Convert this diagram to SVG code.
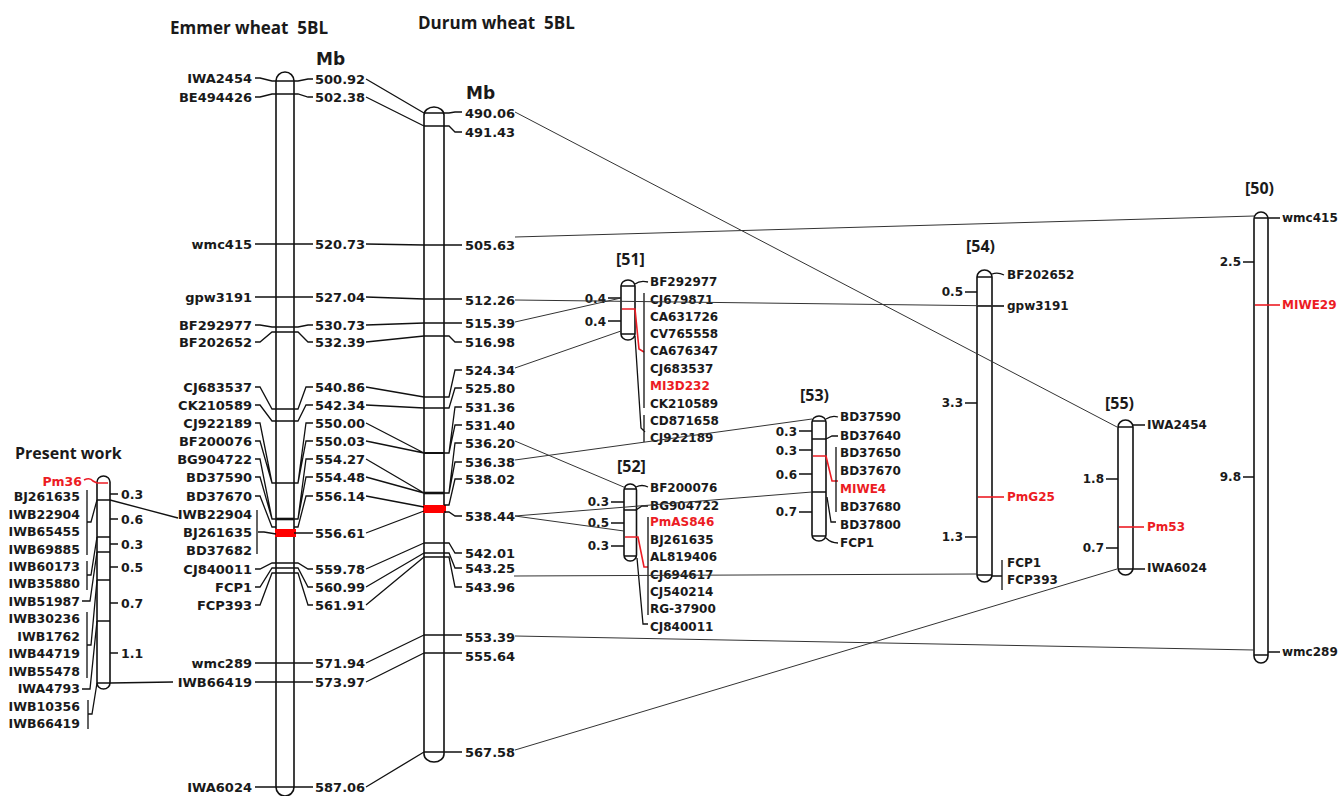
<svg xmlns="http://www.w3.org/2000/svg" width="1344" height="796" viewBox="0 0 1344 796">
<style>
text{font-family:"DejaVu Sans","Liberation Sans",sans-serif;font-weight:bold;font-size:13px;fill:#1a1a1a;dominant-baseline:central}
.e{text-anchor:end}
.s{font-size:12px}
.p{font-size:12.5px}
.r{fill:#ec1c24}
.t{font-family:"Open Sans","Liberation Sans",sans-serif;font-size:17px;font-weight:bold;white-space:pre}
.h{font-family:"Open Sans","Liberation Sans",sans-serif;font-size:16px;font-weight:bold}
.mb{font-size:17px}
.chr{fill:#fff;stroke:#111;stroke-width:1.6}
.ln{fill:none;stroke:#111;stroke-width:1.3}
.rl{fill:none;stroke:#ec1c24;stroke-width:1.6}
.cn{fill:none;stroke:#333;stroke-width:1}
.bk{fill:none;stroke:#111;stroke-width:1.3}
.band{fill:#f00}
</style>
<rect width="1344" height="796" fill="#fff"/>

<g id="titles">
<text class="t" x="170" y="27">Emmer wheat  5BL</text>
<text class="t" x="418" y="22">Durum wheat  5BL</text>
</g>

<g id="present-work">
<text class="t" x="15" y="453" style="font-size:16px">Present work</text>
<rect class="chr" x="97" y="476" width="13" height="213" rx="6.5" ry="6"/>
<path class="ln" d="M97 500H110M97 537H110M97 552H110M97 580H110M97 621H110M97 683H110"/>
<path class="rl" d="M97 483H108M84 480Q90 477 93 481L97 483"/>
<text class="r e p" x="82" y="481">Pm36</text>
<path class="ln" d="M110 494H118M110 519H118M110 544H118M110 567H118M110 603H118M110 653H118"/>
<text class="p" x="121" y="494">0.3</text>
<text class="p" x="121" y="519">0.6</text>
<text class="p" x="121" y="544">0.3</text>
<text class="p" x="121" y="567">0.5</text>
<text class="p" x="121" y="603">0.7</text>
<text class="p" x="121" y="653">1.1</text>
<text class="e p" x="80" y="496">BJ261635</text>
<text class="e p" x="80" y="514">IWB22904</text>
<text class="e p" x="80" y="531">IWB65455</text>
<text class="e p" x="80" y="549">IWB69885</text>
<text class="e p" x="80" y="566">IWB60173</text>
<text class="e p" x="80" y="583">IWB35880</text>
<text class="e p" x="80" y="601">IWB51987</text>
<text class="e p" x="80" y="618">IWB30236</text>
<text class="e p" x="80" y="636">IWB1762</text>
<text class="e p" x="80" y="653">IWB44719</text>
<text class="e p" x="80" y="671">IWB55478</text>
<text class="e p" x="80" y="688">IWA4793</text>
<text class="e p" x="80" y="706">IWB10356</text>
<text class="e p" x="80" y="723">IWB66419</text>
<path class="ln" d="M87 490V555M87 561V590M87 612V678M88 700V729M87 522H91L97 500M87 575H91L97 537M82 601H90L97 552M87 645H91L97 580M82 689H90L97 621M88 714H92L97 683"/>
</g>

<g id="emmer">
<text class="mb" x="316" y="59">Mb</text>
<rect class="chr" x="276" y="72" width="18" height="724" rx="9" ry="9"/>
<path class="ln" d="M276 81H294M276 94H294M276 244H294M276 297H294M276 327H294M276 332H294M276 409H294M276 421H294M276 483H294M276 563H294M276 568H294M276 573H294M276 663H294M276 682H294M276 787H294"/>
<path class="ln" style="stroke-width:2.6" d="M276 519H294"/>
<rect class="band" x="275" y="529" width="21" height="8"/>
<text class="e" x="252" y="78">IWA2454</text>
<text class="e" x="252" y="97">BE494426</text>
<text class="e" x="252" y="244">wmc415</text>
<text class="e" x="252" y="297">gpw3191</text>
<text class="e" x="252" y="325">BF292977</text>
<text class="e" x="252" y="342">BF202652</text>
<text class="e" x="252" y="387">CJ683537</text>
<text class="e" x="252" y="405">CK210589</text>
<text class="e" x="252" y="423">CJ922189</text>
<text class="e" x="252" y="441">BF200076</text>
<text class="e" x="252" y="459">BG904722</text>
<text class="e" x="252" y="477">BD37590</text>
<text class="e" x="252" y="496">BD37670</text>
<text class="e" x="252" y="514">IWB22904</text>
<text class="e" x="252" y="532">BJ261635</text>
<text class="e" x="252" y="550">BD37682</text>
<text class="e" x="252" y="569">CJ840011</text>
<text class="e" x="252" y="587">FCP1</text>
<text class="e" x="252" y="605">FCP393</text>
<text class="e" x="252" y="663">wmc289</text>
<text class="e" x="252" y="682">IWB66419</text>
<text class="e" x="252" y="787">IWA6024</text>
<path class="ln" d="M255 78H260L272 81H276M255 97H260L272 94H276M255 244H276M255 297H276M255 325H260L272 327H276M255 342H260L272 332H276M255 387H260L272 409H276M255 405H260L272 421H276M255 423H260L272 483H276M255 441H260L272 483H276M255 459H260L272 519H276M255 477H260L272 519H276M255 496H260L272 527H276M257 510V554M258 532H264L276 534M255 569H260L272 563H276M255 587H260L272 568H276M255 605H260L272 573H276M255 663H276M255 682H276M255 787H276"/>
<text x="315" y="79">500.92</text>
<text x="315" y="97">502.38</text>
<text x="315" y="244">520.73</text>
<text x="315" y="297">527.04</text>
<text x="315" y="325">530.73</text>
<text x="315" y="342">532.39</text>
<text x="315" y="387">540.86</text>
<text x="315" y="405">542.34</text>
<text x="315" y="423">550.00</text>
<text x="315" y="441">550.03</text>
<text x="315" y="459">554.27</text>
<text x="315" y="477">554.48</text>
<text x="315" y="496">556.14</text>
<text x="315" y="533">556.61</text>
<text x="315" y="569">559.78</text>
<text x="315" y="587">560.99</text>
<text x="315" y="605">561.91</text>
<text x="315" y="663">571.94</text>
<text x="315" y="682">573.97</text>
<text x="315" y="787">587.06</text>
<path class="ln" d="M294 81H298L308 79H313M294 94H298L308 97H313M294 244H313M294 297H313M294 327H298L308 325H313M294 332H298L308 342H313M294 409H298L306 387H313M294 421H298L306 405H313M294 483H298L306 423H313M294 483H298L306 441H313M294 519H298L306 459H313M294 519H298L306 477H313M294 527H298L306 496H313M294 533H313M294 563H298L308 569H313M294 568H298L308 587H313M294 573H298L308 605H313M294 663H313M294 682H313M294 787H313"/>
</g>

<g id="durum">
<text class="mb" x="466" y="93">Mb</text>
<rect class="chr" x="424" y="107" width="20" height="655" rx="10" ry="8"/>
<path class="ln" d="M424 113H444M424 126H444M424 245H444M424 299H444M424 323H444M424 336H444M424 397H444M424 408H444M424 543H444M424 553H444M424 557H444M424 635H444M424 653H444M424 752H444"/>
<path class="ln" style="stroke-width:2" d="M424 453H444"/>
<path class="ln" style="stroke-width:2.6" d="M424 493H444"/>
<rect class="band" x="423" y="505" width="23" height="8"/>
<text x="465" y="113">490.06</text>
<text x="465" y="132">491.43</text>
<text x="465" y="245">505.63</text>
<text x="465" y="300">512.26</text>
<text x="465" y="323">515.39</text>
<text x="465" y="342">516.98</text>
<text x="465" y="370">524.34</text>
<text x="465" y="388">525.80</text>
<text x="465" y="407">531.36</text>
<text x="465" y="425">531.40</text>
<text x="465" y="443">536.20</text>
<text x="465" y="462">536.38</text>
<text x="465" y="479">538.02</text>
<text x="465" y="516">538.44</text>
<text x="465" y="553">542.01</text>
<text x="465" y="568">543.25</text>
<text x="465" y="587">543.96</text>
<text x="465" y="637">553.39</text>
<text x="465" y="656">555.64</text>
<text x="465" y="752">567.58</text>
<path class="ln" d="M444 113H449L455 112H462M444 126H449L455 132H462M444 245H462M444 299H462M444 323H462M444 336H449L455 342H462M444 397H449L455 370H462M444 408H449L455 388H462M444 453H449L455 407H462M444 453H449L455 425H462M444 493H449L455 443H462M444 493H449L455 462H462M444 505H449L455 479H462M444 512H449L455 516H462M444 543H449L455 553H462M444 553H449L455 568H462M444 557H449L455 587H462M444 635H462M444 653H462M444 752H462"/>
</g>

<g id="ref51">
<text class="h" x="616" y="259">[51]</text>
<rect class="chr" x="621" y="280" width="14" height="60" rx="7" ry="6"/>
<path class="ln" d="M621 286H635M621 334H635"/>
<path class="ln" d="M608 298H621M608 321H621"/>
<text class="s e" x="606" y="299">0.4</text>
<text class="s e" x="606" y="322">0.4</text>
<path class="rl" d="M622 309H635L639 349L644 352"/>
<text class="s" x="650" y="282">BF292977</text>
<text class="s" x="650" y="300">CJ679871</text>
<text class="s" x="650" y="317">CA631726</text>
<text class="s" x="650" y="334">CV765558</text>
<text class="s" x="650" y="351">CA676347</text>
<text class="s" x="650" y="369">CJ683537</text>
<text class="s r" x="650" y="386">MI3D232</text>
<text class="s" x="650" y="404">CK210589</text>
<text class="s" x="650" y="421">CD871658</text>
<text class="s" x="650" y="438">CJ922189</text>
<path class="ln" d="M635 284Q640 280 648 282M644 293V408M644 415V442M635 336L641 428L645 432"/>
</g>

<g id="ref52">
<text class="h" x="617" y="466">[52]</text>
<rect class="chr" x="624" y="484" width="12.5" height="77" rx="6" ry="6"/>
<path class="ln" d="M624 489H636.5M624 510H636.5M624 556H636.5"/>
<path class="ln" d="M611 502H624M611 523H624M611 546H624"/>
<text class="s e" x="609" y="502">0.3</text>
<text class="s e" x="609" y="523">0.5</text>
<text class="s e" x="609" y="546">0.3</text>
<path class="rl" d="M625 537H638L644 567H648"/>
<text class="s" x="650" y="488">BF200076</text>
<text class="s" x="650" y="506">BG904722</text>
<text class="s r" x="650" y="522">PmAS846</text>
<text class="s" x="650" y="540">BJ261635</text>
<text class="s" x="650" y="557">AL819406</text>
<text class="s" x="650" y="575">CJ694617</text>
<text class="s" x="650" y="592">CJ540214</text>
<text class="s" x="650" y="609">RG-37900</text>
<text class="s" x="650" y="627">CJ840011</text>
<path class="ln" d="M636 487Q642 484 648 487M636 510L642 506H648M648 517V615M637 558L643 624H648"/>
</g>

<g id="ref53">
<text class="h" x="800" y="395">[53)</text>
<rect class="chr" x="812" y="416" width="14" height="125" rx="7" ry="6"/>
<path class="ln" d="M812 421H826M812 439H826M812 492H826M812 536H826"/>
<path class="ln" d="M799 431H812M799 450H812M799 474H812M799 512H812"/>
<text class="s e" x="797" y="432">0.3</text>
<text class="s e" x="797" y="451">0.3</text>
<text class="s e" x="797" y="475">0.6</text>
<text class="s e" x="797" y="512">0.7</text>
<path class="rl" d="M813 456H826L832 481H838"/>
<text class="s" x="840" y="417">BD37590</text>
<text class="s" x="840" y="436">BD37640</text>
<text class="s" x="840" y="453">BD37650</text>
<text class="s" x="840" y="471">BD37670</text>
<text class="s r" x="840" y="489">MIWE4</text>
<text class="s" x="840" y="507">BD37680</text>
<text class="s" x="840" y="525">BD37800</text>
<text class="s" x="840" y="543">FCP1</text>
<path class="ln" d="M826 419Q832 415 838 417M826 439L832 436H838M836 447V512M827 497L831 522H836M826 538Q831 543 838 543"/>
</g>

<g id="ref54">
<text class="h" x="966" y="246">[54)</text>
<rect class="chr" x="977" y="270" width="15" height="312" rx="7.5" ry="7"/>
<path class="ln" d="M977 277H992M977 306H992M977 575H992"/>
<path class="ln" d="M965 292H977M965 403H977M965 537H977"/>
<text class="s e" x="963" y="292">0.5</text>
<text class="s e" x="963" y="403">3.3</text>
<text class="s e" x="963" y="537">1.3</text>
<path class="rl" d="M978 497H1004"/>
<text class="s" x="1007" y="275">BF202652</text>
<text class="s" x="1007" y="306">gpw3191</text>
<text class="s r" x="1007" y="497">PmG25</text>
<text class="s" x="1007" y="563">FCP1</text>
<text class="s" x="1007" y="580">FCP393</text>
<path class="ln" d="M992 274Q998 272 1004 275M992 306H1004M1002 560V590M992 576H1002"/>
</g>

<g id="ref55">
<text class="h" x="1105" y="403">[55)</text>
<rect class="chr" x="1118" y="420" width="15" height="155" rx="7.5" ry="7"/>
<path class="ln" d="M1118 427H1133M1118 569H1133"/>
<path class="ln" d="M1106 479H1118M1106 548H1118"/>
<text class="s e" x="1104" y="479">1.8</text>
<text class="s e" x="1104" y="548">0.7</text>
<path class="rl" d="M1119 527H1144"/>
<text class="s" x="1147" y="425">IWA2454</text>
<text class="s r" x="1147" y="527">Pm53</text>
<text class="s" x="1147" y="568">IWA6024</text>
<path class="ln" d="M1133 425H1145M1133 569H1145"/>
</g>

<g id="ref50">
<text class="h" x="1245" y="188">[50)</text>
<rect class="chr" x="1254" y="212" width="14" height="451" rx="7" ry="7"/>
<path class="ln" d="M1254 218H1268M1254 655H1268"/>
<path class="ln" d="M1243 262H1254M1243 477H1254"/>
<text class="s e" x="1241" y="262">2.5</text>
<text class="s e" x="1241" y="477">9.8</text>
<path class="rl" d="M1255 305H1280"/>
<text class="s" x="1282" y="218">wmc415</text>
<text class="s r" x="1282" y="305">MIWE29</text>
<text class="s" x="1282" y="652">wmc289</text>
<path class="ln" d="M1268 218H1280M1268 652H1280"/>
</g>

<g id="connectors">
<path class="bk" d="M110 500L178 518M110 683L173 682"/>
<path class="bk" d="M366 79L424 113M366 97L424 126M366 244L424 245M366 297L424 299M366 325L424 323M366 342L424 336M366 387L424 397M366 405L424 408M366 423L424 453M366 441L424 453M366 459L424 493M366 477L424 493M366 496L424 507M366 533L424 511M366 569L424 543M366 587L424 553M366 605L424 557M366 663L424 635M366 682L424 653M366 787L424 752"/>
<path class="cn" d="M515 112L1117 427M515 237L1254 216M515 300L1004 306M515 322L621 298M515 368L621 331M515 441L626 488M515 460L812 419M515 516L812 492M515 516L624 531M514 576L977 574M515 636L1254 650M515 750L1117 569"/>
</g>
</svg>
